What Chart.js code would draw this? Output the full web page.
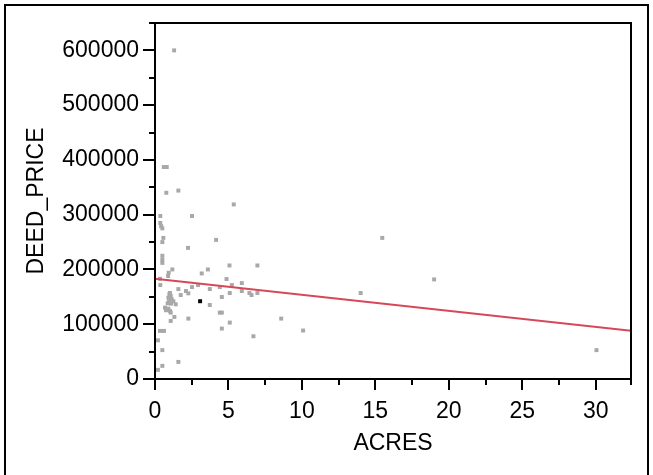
<!DOCTYPE html>
<html>
<head>
<meta charset="utf-8">
<script src="https://cdn.jsdelivr.net/npm/chart.js@4"></script>
<style>
  html, body { margin: 0; padding: 0; background: #fff; overflow: hidden; }
  #frame { position: absolute; left: 4px; top: 4px; width: 641px; height: 500px; border: 2px solid #000; }
  #chart { position: absolute; left: 0; top: 0; }
</style>
</head>
<body>
<div id="frame"></div>
<canvas id="chart" width="653" height="475"></canvas>
<script>
// values
const acres = [
    1.3, 0.6, 0.8, 0.77, 1.59, 5.36, 0.36, 2.52, 0.36, 0.42,
    0.5, 0.57, 0.5, 4.16, 2.25, 15.47, 0.5, 0.5, 0.5, 5.07,
    6.97, 1.18, 3.6, 0.93, 3.18, 0.89, 0.34, 4.87, 19.0, 5.91,
    0.36, 2.93, 5.23, 2.52, 4.41, 1.59, 3.73, 2.11, 5.91, 2.27,
    5.09, 6.43, 6.97, 14.0, 1.02, 0.98, 1.75, 6.57, 1.07, 4.55,
    0.91, 1.14, 0.95, 1.25, 0.86, 1.09, 1.41, 3.73, 0.68, 0.91,
    0.75, 1.02, 1.07, 4.41, 4.55, 1.32, 2.27, 8.59, 1.07, 5.09,
    4.55, 10.08, 0.34, 0.61, 6.7, 0.2, 0.5, 30.05, 1.59, 0.5,
    0.2
];
const deedPrice = [
    600000, 387000, 387000, 340000, 344000, 318700, 297600, 297600, 285000, 279000,
    275000, 257600, 250000, 254000, 239400, 257600, 225000, 218000, 212000, 207300,
    207300, 200000, 200000, 194000, 192700, 188000, 183000, 182500, 181800, 175100,
    171500, 171500, 171500, 167800, 167800, 164200, 164200, 160600, 160600, 156400,
    157000, 157000, 157000, 157000, 157000, 155000, 153300, 153300, 151500, 149700,
    148500, 145500, 141800, 141800, 138200, 137600, 136400, 135100, 130300, 128500,
    125500, 124200, 121200, 121200, 121200, 113300, 110300, 110300, 106000, 103000,
    92100, 88500, 87800, 87800, 78000, 70600, 52700, 52700, 31200, 24000,
    16700
];
const markedAcres = [3.07];
const markedPrice = [142000];
const fitAcres = [0, 32.4];
const fitPrice = [183000, 88000];

const xTicks = [0, 5, 10, 15, 20, 25, 30];
const yTicks = [0, 100000, 200000, 300000, 400000, 500000, 600000];
const xStep = 5;
const yStep = 100000;

const toPoints = (xs, ys) => xs.map((v, i) => ({ x: v, y: ys[i] }));

// box round the plot, plus long/short tick marks
const axisFrame = {
    id: 'axisFrame',
    afterDatasetsDraw(chart) {
        const { ctx, chartArea: a, scales: { x, y } } = chart;
        ctx.save();
        ctx.strokeStyle = '#000';
        ctx.lineWidth = 2;
        ctx.strokeRect(a.left, a.top, a.right - a.left, a.bottom - a.top);
        ctx.beginPath();
        xTicks.forEach(t => {
            [t, t + xStep / 2].forEach((v, i) => {
                if (v > x.max + 0.2) return;
                const px = Math.round(x.getPixelForValue(Math.min(v, x.max)));
                ctx.moveTo(px, a.bottom);
                ctx.lineTo(px, a.bottom + (i ? 6 : 11));
            });
        });
        yTicks.forEach(t => {
            [t, t + yStep / 2].forEach((v, i) => {
                if (v > y.max) return;
                const py = Math.round(y.getPixelForValue(v));
                ctx.moveTo(a.left, py);
                ctx.lineTo(a.left - (i ? 6 : 12), py);
            });
        });
        ctx.stroke();
        ctx.restore();
    }
};

const font = { family: '"Liberation Sans", Arial, sans-serif', size: 23 };

// fixed axis boxes so the plot sits where the original's does
const fixBox = (w, h) => s => {
    if (w) s.width = w;
    if (h) s.height = h;
    s.paddingTop = s.paddingBottom = s.paddingLeft = s.paddingRight = 0;
};

new Chart(document.getElementById('chart'), {
    type: 'scatter',
    data: {
        datasets: [
            {
                type: 'line',
                data: toPoints(fitAcres, fitPrice),
                borderColor: 'rgb(214, 72, 88)',
                borderWidth: 2,
                pointRadius: 0,
                fill: false,
                order: 0
            },
            {
                data: toPoints(markedAcres, markedPrice),
                pointStyle: 'rect',
                pointRadius: 2.8,
                backgroundColor: '#000',
                borderWidth: 0,
                order: 1
            },
            {
                data: toPoints(acres, deedPrice),
                pointStyle: 'rect',
                pointRadius: 2.8,
                backgroundColor: 'rgb(168, 168, 168)',
                borderWidth: 0,
                order: 2
            }
        ]
    },
    options: {
        responsive: false,
        animation: false,
        layout: { padding: { left: 0, top: 23, right: 22, bottom: 0 } },
        plugins: { legend: { display: false }, tooltip: { enabled: false } },
        scales: {
            x: {
                type: 'linear',
                min: 0,
                max: 32.4,
                grid: { display: false, drawTicks: false },
                border: { display: false },
                afterBuildTicks: s => { s.ticks = xTicks.map(v => ({ value: v })); },
                ticks: { autoSkip: false, padding: 19, color: '#000', font, callback: v => String(v) },
                title: { display: true, text: 'ACRES', color: '#000', font, padding: { top: 0, bottom: 18 } },
                afterFit: fixBox(0, 96)
            },
            y: {
                type: 'linear',
                min: 0,
                max: 650000,
                grid: { display: false, drawTicks: false },
                border: { display: false },
                afterBuildTicks: s => { s.ticks = yTicks.map(v => ({ value: v })); },
                ticks: { autoSkip: false, padding: 16, color: '#000', font, callback: v => String(v) },
                title: { display: true, text: 'DEED_PRICE', color: '#000', font, padding: { top: 23, bottom: 0 } },
                afterFit: fixBox(155, 0)
            }
        }
    },
    plugins: [axisFrame]
});
</script>
</body>
</html>
